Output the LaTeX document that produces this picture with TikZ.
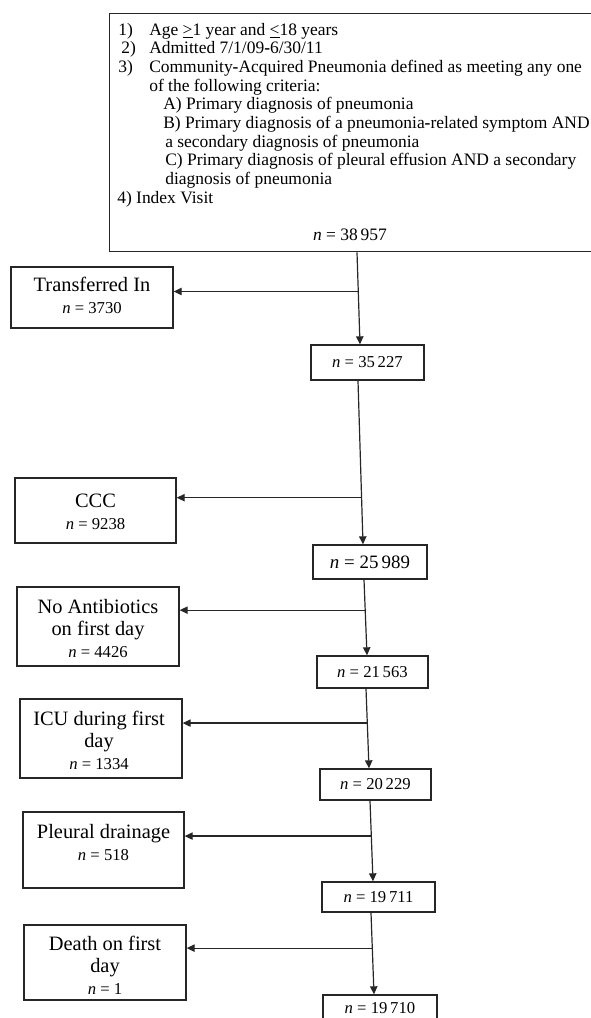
\documentclass[tikz,border=0pt]{standalone}
\usepackage{fontspec}
\setmainfont{Liberation Serif}
\usetikzlibrary{arrows.meta,calc}
\newcommand\cntfont{\fontsize{12.5pt}{16.5pt}\selectfont}
\newcommand\bh{\textbf{-}}
\begin{document}
\begin{tikzpicture}[x=0.75pt,y=-0.75pt,
  box/.style={draw=black!85, line width=1pt, inner sep=0pt},
  conn/.style={draw=black!85, line width=0.9pt},
  arr/.style={conn, -{Triangle[length=6pt,width=5.5pt]}},
  crit/.style={anchor=base west, inner sep=0pt, font=\fontsize{13.1pt}{14pt}\selectfont},
  side/.style={align=center, inner sep=0pt, font=\fontsize{15.3pt}{16.5pt}\selectfont},
  cnt/.style={inner sep=0pt, font=\cntfont},
]
\useasboundingbox (0,0) rectangle (591,1018);
\clip (0,0) rectangle (591,1018);

% criteria box
\node[box, anchor=north west, minimum width=450pt, minimum height=178.5pt] (crit) at (109,13) {};
\node[crit] (c1n) at (118,35) {1)};
\node[crit] (c1) at (149,35) {Age \underline{>}1 year and \underline{<}18 years};
\node[crit] (c2n) at (121,53.7) {2)};
\node[crit] (c2) at (149,53.7) {Admitted 7/1/09\bh6/30/11};
\node[crit] (c3n) at (118,72.4) {3)};
\node[crit] (c3) at (149,72.4) {Community\bh Acquired Pneumonia defined as meeting any one};
\node[crit] (c3b) at (149,91.1) {of the following criteria:};
\node[crit] (ca) at (163,109.8) {A) Primary diagnosis of pneumonia};
\node[crit] (cb) at (163,128.5) {B) Primary diagnosis of a pneumonia\bh related symptom AND};
\node[crit] (cb2) at (165,147.2) {a secondary diagnosis of pneumonia};
\node[crit] (cc) at (165,165.9) {C) Primary diagnosis of pleural effusion AND a secondary};
\node[crit] (cc2) at (165,184.6) {diagnosis of pneumonia};
\node[crit] (c4) at (117,203.3) {4) Index Visit};
\node[crit, anchor=base] (c0) at (350,240) {\textit{n} = 38\,957};

% side boxes
\node[box, minimum width=121.5pt, minimum height=45.75pt] (trans) at (92,297.5) {};
\node[side] (trans-t) at (92,295) {Transferred In\\{\cntfont\textit{n} = 3730}};

\node[box, minimum width=120.75pt, minimum height=48.75pt] (ccc) at (95.5,510.5) {};
\node[side] (ccc-t) at (95.5,512) {CCC\\{\cntfont\textit{n} = 9238}};

\node[box, minimum width=121.5pt, minimum height=59.25pt] (noab) at (98,626.5) {};
\node[side] (noab-t) at (98,628) {No Antibiotics\\on first day\\{\cntfont\textit{n} = 4426}};

\node[box, minimum width=121.5pt, minimum height=59.25pt] (icu) at (101,738.5) {};
\node[side] (icu-t) at (99,740) {ICU during first\\day\\{\cntfont\textit{n} = 1334}};

\node[box, minimum width=120.75pt, minimum height=57pt] (pleu) at (103.5,850) {};
\node[side] (pleu-t) at (103.5,842) {Pleural drainage\\{\cntfont\textit{n} = 518}};

\node[box, minimum width=121.5pt, minimum height=56.25pt] (death) at (105,962.5) {};
\node[side] (death-t) at (105,965) {Death on first\\day\\{\cntfont\textit{n} = 1}};

% count boxes
\node[box, cnt, minimum width=84.75pt, minimum height=26.25pt] (n1) at (367.5,362.5) {\textit{n} = 35\,227};
\node[box, inner sep=0pt, font=\fontsize{14.2pt}{16pt}\selectfont, minimum width=85.5pt, minimum height=25.5pt] (n2) at (370,562) {\textit{n} = 25\,989};
\node[box, cnt, minimum width=83.25pt, minimum height=24pt] (n3) at (372.5,672) {\textit{n} = 21\,563};
\node[box, cnt, minimum width=83.25pt, minimum height=23.25pt] (n4) at (375.5,784.5) {\textit{n} = 20\,229};
\node[box, cnt, minimum width=84.75pt, minimum height=22.5pt] (n5) at (378.5,897) {\textit{n} = 19\,711};
\node[box, minimum width=85.5pt, minimum height=26.25pt] (n6) at (380,1012.5) {};
\node[cnt] (n6-t) at (380,1008.5) {\textit{n} = 19\,710};

% main flow coordinates
\coordinate (s1) at ([xshift=186pt]crit.south west);
\coordinate (e1) at ([xshift=-5.625pt]n1.north);
\coordinate (s2) at ([xshift=-7.125pt]n1.south);
\coordinate (e2) at ([xshift=-5.25pt]n2.north);
\coordinate (s3) at ([xshift=-4.5pt]n2.south);
\coordinate (e3) at ([xshift=-4.125pt]n3.north);
\coordinate (s4) at ([xshift=-4.875pt]n3.south);
\coordinate (e4) at ([xshift=-4.875pt]n4.north);
\coordinate (s5) at ([xshift=-4.125pt]n4.south);
\coordinate (e5) at ([xshift=-4.125pt]n5.north);
\coordinate (s6) at ([xshift=-5.625pt]n5.south);
\coordinate (e6) at ([xshift=-4.5pt]n6.north);

\coordinate (b1) at ($(s1)!0.4255!(e1)$);
\coordinate (b2) at ($(s2)!0.715!(e2)$);
\coordinate (b3) at ($(s3)!0.403!(e3)$);
\coordinate (b4) at ($(s4)!0.432!(e4)$);
\coordinate (b5) at ($(s5)!0.439!(e5)$);
\coordinate (b6) at ($(s6)!0.434!(e6)$);

\draw[arr] (s1) -- (e1);
\draw[arr] (s2) -- (e2);
\draw[arr] (s3) -- (e3);
\draw[arr] (s4) -- (e4);
\draw[arr] (s5) -- (e5);
\draw[arr] (s6) -- (e6);

\draw[arr] (b1) -- (b1 -| trans.east);
\draw[arr] (b2) -- (b2 -| ccc.east);
\draw[arr] (b3) -- (b3 -| noab.east);
\draw[arr] (b4) -- (b4 -| icu.east);
\draw[arr] (b5) -- (b5 -| pleu.east);
\draw[arr] (b6) -- (b6 -| death.east);
\end{tikzpicture}
\end{document}
